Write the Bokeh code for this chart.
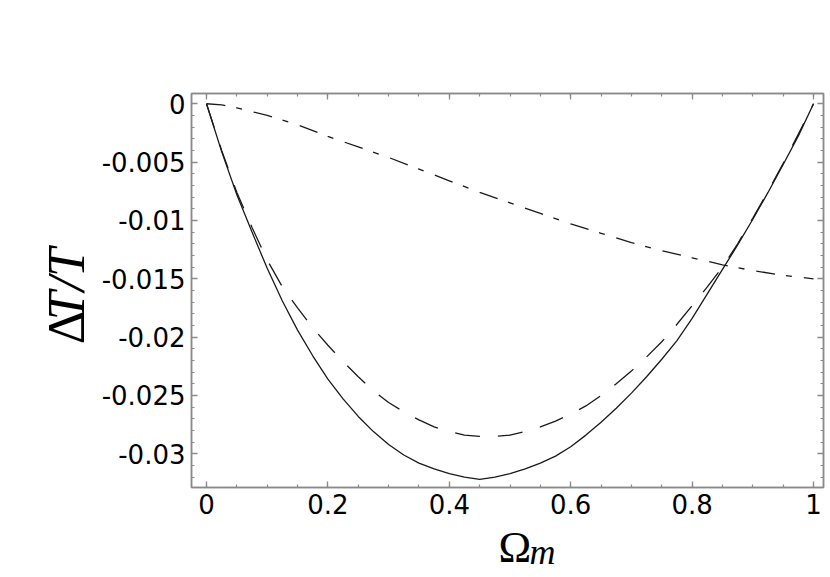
import numpy as np
from bokeh.plotting import figure
from bokeh.models import Range1d, LinearAxis, FixedTicker, Label
from bokeh.layouts import column, row
from bokeh.embed import file_html
from bokeh.resources import INLINE

# ---- data ----
omega_m = [0.0, 0.025, 0.05, 0.075, 0.1, 0.125, 0.15, 0.175, 0.2, 0.225, 0.25,
           0.275, 0.3, 0.325, 0.35, 0.375, 0.4, 0.425, 0.45, 0.475, 0.5,
           0.525, 0.55, 0.575, 0.6, 0.625, 0.65, 0.675, 0.7, 0.725, 0.75,
           0.775, 0.8, 0.825, 0.85, 0.875, 0.9, 0.925, 0.95, 0.975, 1.0]
dT_solid = [0.0, -0.0041, -0.0078, -0.0110, -0.0141, -0.0169, -0.0194, -0.0216,
            -0.0236, -0.0253, -0.0268, -0.0281, -0.0292, -0.0301, -0.0308,
            -0.0313, -0.0317, -0.0320, -0.0322, -0.0320, -0.0317, -0.0313,
            -0.0308, -0.0302, -0.0294, -0.0284, -0.0273, -0.0261, -0.0248,
            -0.0234, -0.0219, -0.0203, -0.0184, -0.0163, -0.0142, -0.0121,
            -0.0099, -0.0076, -0.0052, -0.00275, 0.0]
dT_dashed = [0.0, -0.0040, -0.0076, -0.0106, -0.0134, -0.0157, -0.0175, -0.0192,
             -0.0207, -0.0221, -0.0234, -0.0246, -0.0256, -0.0264, -0.0271,
             -0.0277, -0.0281, -0.0284, -0.0285, -0.0285, -0.0284, -0.0281,
             -0.0277, -0.0272, -0.0266, -0.0259, -0.0250, -0.0240, -0.0229,
             -0.0217, -0.0204, -0.0189, -0.0173, -0.0157, -0.0140, -0.0120,
             -0.0098, -0.0075, -0.0051, -0.0026, 0.0]
omega_dd = [0.0, 0.025, 0.05, 0.1, 0.15, 0.2, 0.25, 0.3, 0.35, 0.4, 0.45,
            0.5, 0.55, 0.6, 0.65, 0.7, 0.75, 0.8, 0.85, 0.9, 0.95, 1.0]
dT_dashdot = [0.0, -0.0001, -0.00035, -0.0010, -0.0018, -0.0028, -0.0037, -0.0046,
              -0.0056, -0.0066, -0.0076, -0.0085, -0.0094, -0.0103, -0.0111,
              -0.0119, -0.0126, -0.0132, -0.0138, -0.0143, -0.0147, -0.0150]

x_ticks = [0.0, 0.2, 0.4, 0.6, 0.8, 1.0]
x_tick_labels = ["0", "0.2", "0.4", "0.6", "0.8", "1"]
y_ticks = [0.0, -0.005, -0.01, -0.015, -0.02, -0.025, -0.03]
y_tick_labels = ["0", "-0.005", "-0.01", "-0.015", "-0.02", "-0.025", "-0.03"]
x_title = ["Ω", "m"]
y_title = ["Δ", "T/T"]

x_minor = [round(v, 3) for v in np.arange(0.0, 1.0001, 0.05)]
y_minor = [round(v, 4) for v in np.arange(-0.032, 0.00001, 0.001)]

FRAME = "#8a8a8a"
INK = "#1a1a1a"
SERIF = "Liberation Serif"

W_LEFT, W_MAIN, H_MAIN, H_BOTTOM = 98, 732, 523, 54


def blank(width, height):
    f = figure(width=width, height=height, output_backend="svg", toolbar_location=None,
               x_range=Range1d(0, width), y_range=Range1d(0, height),
               x_axis_type=None, y_axis_type=None, min_border=0)
    f.grid.visible = False
    f.outline_line_color = None
    f.background_fill_color = "white"
    f.border_fill_color = "white"
    return f


p = figure(width=W_MAIN, height=H_MAIN, output_backend="svg", toolbar_location=None,
           x_range=Range1d(-0.0247, 1.0164), y_range=Range1d(-0.03289, 0.00088),
           x_axis_type=None, y_axis_type=None,
           min_border_left=92, min_border_right=7,
           min_border_top=93, min_border_bottom=36)
p.grid.visible = False
p.background_fill_color = "white"
p.border_fill_color = "white"
p.outline_line_color = FRAME
p.outline_line_width = 1.5


def make_axis(ticks, minor, labels, show_labels):
    ax = LinearAxis(ticker=FixedTicker(ticks=ticks, minor_ticks=minor))
    ax.axis_line_color = FRAME
    ax.axis_line_width = 1.5
    ax.major_tick_line_color = FRAME
    ax.major_tick_line_width = 1.3
    ax.minor_tick_line_color = FRAME
    ax.minor_tick_line_width = 1.2
    ax.major_tick_in = 6
    ax.major_tick_out = 0
    ax.minor_tick_in = 3
    ax.minor_tick_out = 0
    if show_labels:
        ax.major_label_overrides = {t: s for t, s in zip(ticks, labels)}
        ax.major_label_text_font = "DejaVu Sans"
        ax.major_label_text_font_size = "26px"
        ax.major_label_text_color = "black"
        ax.major_label_standoff = 6
    else:
        ax.major_label_overrides = {t: "" for t in ticks}
        ax.major_label_text_font_size = "1px"
        ax.major_label_standoff = 0
    return ax


p.add_layout(make_axis(x_ticks, x_minor, x_tick_labels, True), "below")
p.add_layout(make_axis(y_ticks, y_minor, y_tick_labels, True), "left")
p.add_layout(make_axis(x_ticks, x_minor, x_tick_labels, False), "above")
p.add_layout(make_axis(y_ticks, y_minor, y_tick_labels, False), "right")

p.line(omega_m, dT_solid, line_color=INK, line_width=1.3)
p.line(omega_m, dT_dashed, line_color=INK, line_width=1.3, line_dash="25 18")
p.line(omega_dd, dT_dashdot, line_color=INK, line_width=1.3, line_dash="19 11 6 12")

# y-axis title panel (pixel coordinates, y measured upward)
left = blank(W_LEFT, H_MAIN)
left.add_layout(Label(x=66, y=H_MAIN - 333, text=y_title[0], angle=np.pi / 2,
                      text_font=SERIF, text_font_size="52px",
                      text_align="left", text_baseline="alphabetic", text_color="black"))
left.add_layout(Label(x=66, y=H_MAIN - 301, text=y_title[1], angle=np.pi / 2,
                      text_font=SERIF, text_font_size="52px", text_font_style="italic",
                      text_align="left", text_baseline="alphabetic", text_color="black"))

# x-axis title panel
bottom = blank(W_LEFT + W_MAIN, H_BOTTOM)
bottom.add_layout(Label(x=498, y=30, text=x_title[0],
                        text_font=SERIF, text_font_size="44px",
                        text_align="left", text_baseline="alphabetic", text_color="black"))
bottom.add_layout(Label(x=529, y=26, text=x_title[1],
                        text_font=SERIF, text_font_size="36px", text_font_style="italic",
                        text_align="left", text_baseline="alphabetic", text_color="black"))

layout = column(row(left, p, spacing=0), bottom, spacing=0)

open("out.html", "w").write(file_html(layout, INLINE))
